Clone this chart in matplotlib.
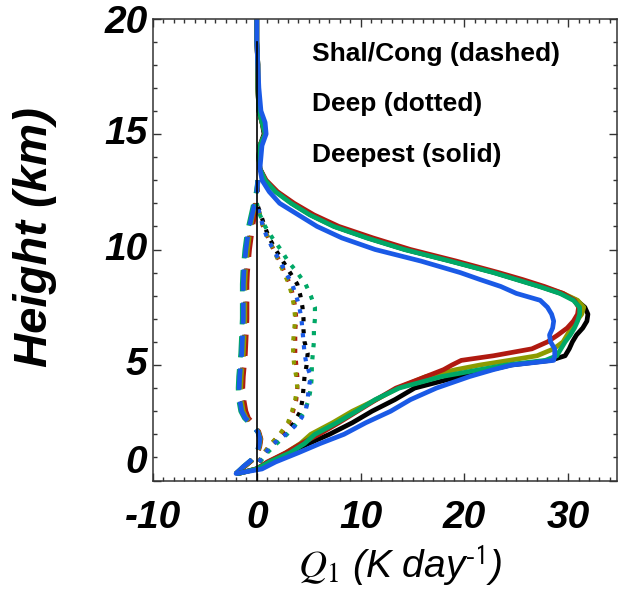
import matplotlib
matplotlib.use("Agg")
import matplotlib.pyplot as plt
from matplotlib.ticker import MultipleLocator

plt.rcParams["axes.unicode_minus"] = False
plt.rcParams["mathtext.fontset"] = "stix"

# ---------------- data ----------------
H_SOLID = [0.3, 0.5, 0.8, 1.2, 1.6, 2.0, 2.5, 3.0, 3.5, 4.0, 4.5, 4.8, 5.0, 5.2, 5.4,
           5.7, 6.0, 6.3, 6.6, 6.9, 7.2, 7.5, 7.8, 8.1, 8.4, 8.7, 9.0, 9.5, 10.0, 10.5,
           11.0, 11.5, 12.0, 12.5, 13.0, 13.5, 14.0, 14.5, 15.0, 15.5, 16.0, 17.0, 18.0, 19.0, 20.0]

solid_black = [-1.8, -0.1, 1.2, 3.0, 5.0, 7.0, 9.2, 11.1, 13.3, 15.2, 19.5, 22.5, 24.5, 28.3, 29.7,
               30.1, 30.4, 30.8, 31.4, 31.8, 31.9, 31.6, 30.8, 29.3, 27.3, 25.1, 22.9, 18.7, 14.3, 10.7,
               7.5, 5.2, 3.4, 1.9, 0.8, 0.3, 0.2, 0.3, 0.7, 0.5, 0.2, 0.1, 0.1, 0.0, 0.0]
solid_red = [-1.8, 0.0, 1.0, 2.8, 4.3, 6.0, 7.9, 9.7, 11.5, 13.4, 16.3, 18.0, 18.8, 19.7, 22.8,
             26.5, 28.0, 29.0, 29.9, 30.5, 30.9, 31.0, 30.6, 29.5, 27.7, 25.6, 23.3, 19.2, 14.8, 11.2,
             7.9, 5.5, 3.6, 2.0, 0.9, 0.3, 0.2, 0.3, 0.8, 0.5, 0.2, 0.1, 0.1, 0.0, 0.0]
solid_olive = [-1.8, 0.0, 1.1, 2.8, 4.2, 5.2, 7.3, 9.2, 11.5, 13.6, 16.3, 19.2, 21.5, 24.3, 27.0,
               28.6, 29.5, 29.9, 30.3, 30.8, 31.3, 31.5, 30.9, 29.5, 27.4, 25.2, 23.0, 18.8, 14.4, 10.8,
               7.5, 5.2, 3.4, 1.9, 0.8, 0.3, 0.2, 0.3, 0.8, 0.5, 0.2, 0.1, 0.1, 0.0, 0.0]
solid_green = [-1.8, 0.0, 1.2, 3.2, 4.6, 5.6, 7.7, 9.6, 11.4, 13.7, 17.8, 21.5, 24.0, 27.8, 28.9,
               29.3, 29.7, 30.2, 30.6, 30.9, 31.1, 31.1, 30.5, 29.2, 27.2, 25.0, 22.8, 18.6, 14.2, 10.6,
               7.4, 5.1, 3.3, 1.8, 0.8, 0.3, 0.2, 0.3, 0.8, 0.5, 0.2, 0.1, 0.1, 0.0, 0.0]
solid_blue = [-2.0, 0.5, 1.8, 4.0, 6.1, 8.4, 10.5, 12.9, 14.8, 17.3, 20.5, 22.8, 24.6, 28.6, 28.7,
              28.7, 28.3, 28.2, 28.5, 28.6, 28.4, 28.0, 27.3, 25.0, 23.5, 21.5, 19.6, 15.8, 11.4, 8.2,
              5.8, 4.0, 2.2, 1.2, 0.5, 0.3, 0.4, 0.5, 0.9, 0.8, 0.4, 0.2, 0.1, 0.0, 0.0]

H_DOT = [0.8, 1.2, 1.6, 2.0, 2.5, 3.0, 3.5, 4.0, 4.5, 5.0, 5.5, 6.0, 6.5, 7.0, 7.5, 8.0,
         8.5, 9.0, 9.5, 10.0, 10.5, 11.0, 11.5, 12.0]
dot_black = [0.2, 0.8, 1.6, 2.7, 3.6, 4.2, 4.4, 4.5, 4.6, 4.8, 4.9, 4.6, 4.5, 4.5, 4.4, 4.2,
             3.9, 3.2, 2.5, 1.8, 1.2, 0.75, 0.4, 0.0]
dot_red = [0.2, 0.7, 1.4, 2.3, 3.1, 3.5, 3.8, 3.9, 3.9, 3.8, 3.7, 3.7, 3.7, 3.8, 3.7, 3.5,
           3.2, 2.7, 2.2, 1.6, 1.1, 0.6, 0.3, 0.0]
dot_olive = [0.2, 0.7, 1.4, 2.2, 3.0, 3.4, 3.7, 3.9, 3.8, 3.6, 3.5, 3.5, 3.6, 3.7, 3.6, 3.4,
             3.1, 2.6, 2.1, 1.6, 1.1, 0.6, 0.3, 0.0]
dot_green = [0.3, 1.0, 1.9, 2.9, 3.9, 4.6, 5.0, 5.2, 5.3, 5.3, 5.4, 5.5, 5.5, 5.6, 5.6, 5.2,
             4.7, 3.9, 3.0, 2.3, 1.5, 0.8, 0.3, 0.0]
dot_blue = [0.2, 0.8, 1.6, 2.8, 4.0, 4.7, 4.9, 5.0, 5.2, 4.8, 4.6, 4.5, 4.4, 4.3, 4.1, 3.8,
            3.4, 2.8, 2.2, 1.6, 1.0, 0.6, 0.3, 0.0]

H_DASH = [0.3, 0.6, 0.9, 1.2, 1.5, 1.8, 2.1, 2.4, 2.7, 3.0, 3.5, 4.0, 4.5, 5.0, 5.5, 6.0,
          6.5, 7.0, 7.5, 8.0, 8.5, 9.0, 9.5, 10.0, 10.5, 11.0, 11.5, 12.0, 12.5, 13.0]
dash_black = [-2.0, -1.2, -0.4, 0.05, 0.25, 0.35, 0.15, -0.3, -0.9, -1.2, -1.4, -1.5, -1.45, -1.35,
              -1.25, -1.2, -1.15, -1.1, -1.1, -1.1, -1.1, -1.05, -0.95, -0.85, -0.7, -0.55, -0.35,
              -0.1, 0.05, 0.1]
dash_red = [-2.0, -1.2, -0.4, 0.1, 0.3, 0.4, 0.2, -0.2, -0.8, -1.05, -1.25, -1.35, -1.3, -1.2,
            -1.1, -1.05, -1.0, -0.95, -0.95, -0.95, -0.95, -0.9, -0.8, -0.7, -0.55, -0.4, -0.2,
            -0.05, 0.05, 0.1]
dash_olive = [-2.0, -1.25, -0.45, 0.05, 0.25, 0.35, 0.15, -0.35, -1.0, -1.3, -1.5, -1.55, -1.5,
              -1.4, -1.3, -1.25, -1.2, -1.15, -1.15, -1.15, -1.15, -1.1, -1.0, -0.9, -0.75, -0.6,
              -0.4, -0.15, 0.0, 0.1]
dash_green = [-2.0, -1.3, -0.5, 0.0, 0.2, 0.3, 0.1, -0.5, -1.2, -1.55, -1.75, -1.8, -1.75, -1.65,
              -1.55, -1.5, -1.45, -1.4, -1.4, -1.4, -1.4, -1.35, -1.25, -1.15, -1.0, -0.8, -0.55,
              -0.3, -0.05, 0.1]
dash_blue = [-2.0, -1.3, -0.5, 0.0, 0.2, 0.3, 0.1, -0.4, -1.1, -1.45, -1.65, -1.7, -1.65, -1.55,
             -1.45, -1.4, -1.35, -1.3, -1.3, -1.3, -1.3, -1.25, -1.15, -1.05, -0.9, -0.7, -0.45,
             -0.2, 0.0, 0.1]

labels_text = ["Shal/Cong (dashed)", "Deep (dotted)", "Deepest (solid)"]
label_heights = [18.45, 16.3, 14.1]
xtick_vals = [-10, 0, 10, 20, 30]
ytick_vals = [0, 5, 10, 15, 20]
ytick_label_pos = [0.75, 5.0, 10.0, 15.0, 19.8]

C_BLACK = "#000000"
C_RED = "#b01a10"
C_OLIVE = "#8c9b00"
C_GREEN = "#00a866"
C_BLUE = "#1a5ae6"

# ---------------- figure ----------------
fig = plt.figure(figsize=(6.2, 6.02), dpi=100)
L, R, T, B = 153, 617, 18.5, 480.5
ax = fig.add_axes([L / 620, 1 - B / 602, (R - L) / 620, (B - T) / 602])
ax.set_xlim(-10, 34.7)
ax.set_ylim(0.1, 20)

dash_style = (0, (4.5, 2.5))
dot_style = (0, (1.0, 1.9))

for xs, c in [(dash_black, C_BLACK), (dash_red, C_RED), (dash_olive, C_OLIVE),
              (dash_green, C_GREEN), (dash_blue, C_BLUE)]:
    ax.plot(xs, H_DASH, color=c, lw=3.4, linestyle=dash_style, dash_capstyle="butt")

for xs, c in [(dot_black, C_BLACK), (dot_red, C_RED), (dot_olive, C_OLIVE),
              (dot_green, C_GREEN), (dot_blue, C_BLUE)]:
    ax.plot(xs, H_DOT, color=c, lw=3.0, linestyle=dot_style, dash_capstyle="butt")

for xs, c in [(solid_black, C_BLACK), (solid_olive, C_OLIVE), (solid_red, C_RED),
              (solid_green, C_GREEN), (solid_blue, C_BLUE)]:
    ax.plot(xs, H_SOLID, color=c, lw=3.4, solid_capstyle="round", solid_joinstyle="round")

ax.axvline(0, ymin=0, ymax=(19 - 0.1) / 19.9, color="black", lw=1.2, zorder=10)

# ticks
ax.set_xticks(xtick_vals)
ax.xaxis.set_minor_locator(MultipleLocator(1))
ax.set_yticks(ytick_vals)
ax.set_yticklabels([])
ax.yaxis.set_minor_locator(MultipleLocator(1))
ax.tick_params(which="both", direction="in", top=True, right=True, width=1.0, color="#333333")
ax.tick_params(which="major", length=6)
ax.tick_params(which="minor", length=3)
ax.tick_params(axis="x", which="major", pad=14)
for lbl in ax.get_xticklabels():
    lbl.set_fontfamily("Liberation Sans")
    lbl.set_fontweight("bold")
    lbl.set_fontstyle("italic")
    lbl.set_fontsize(28)

for v, p in zip(ytick_vals, ytick_label_pos):
    ax.text(-0.012, p, str(v), transform=ax.get_yaxis_transform(), ha="right", va="center",
            family="Liberation Sans", weight="bold", style="italic", fontsize=28)

for sp in ax.spines.values():
    sp.set_linewidth(1.1)
    sp.set_color("#333333")

for t, h in zip(labels_text, label_heights):
    ax.text(5.3, h, t, ha="left", va="center", family="Liberation Sans", weight="bold",
            fontsize=19)

fig.text(35 / 620, 1 - 237 / 602, "Height (km)", rotation=90, ha="center", va="center",
         family="Liberation Sans", weight="bold", style="italic", fontsize=34)
fig.text(400 / 620, 1 - 566 / 602, r"$\mathit{Q_{1}}$ (K day$^{\mathsf{\text{-}1}}$)",
         ha="center", va="center", family="Liberation Sans", style="italic", fontsize=28)

fig.savefig("out.png", dpi=100)
